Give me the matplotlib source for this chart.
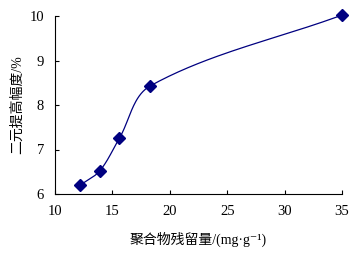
import numpy as np
import matplotlib
matplotlib.use("Agg")
import matplotlib.pyplot as plt

plt.rcParams['font.family'] = ['Liberation Serif', 'Noto Sans CJK SC', 'DejaVu Sans']

residual = [12.2, 13.9, 15.6, 18.3, 35.0]
increase = [6.2, 6.52, 7.25, 8.43, 10.02]
x_ticks = [10, 15, 20, 25, 30, 35]
y_ticks = [6, 7, 8, 9, 10]


def smooth(xs, ys, sx, sy, n=40):
    # smoothed line like Excel: bezier with tangent from neighbours,
    # control distance a third of the segment length (screen units)
    p = np.column_stack([np.array(xs) * sx, np.array(ys) * sy])
    m = len(p)
    tang = np.zeros_like(p)
    for i in range(m):
        a = p[max(i - 1, 0)]
        b = p[min(i + 1, m - 1)]
        d = b - a
        tang[i] = d / np.linalg.norm(d)
    t = np.linspace(0, 1, n)[:, None]
    out = []
    for i in range(m - 1):
        p1, p2 = p[i], p[i + 1]
        L = np.linalg.norm(p2 - p1) / 3
        c1 = p1 + tang[i] * L
        c2 = p2 - tang[i + 1] * L
        seg = (1 - t) ** 3 * p1 + 3 * (1 - t) ** 2 * t * c1 + 3 * (1 - t) * t ** 2 * c2 + t ** 3 * p2
        out.append(seg)
    out = np.vstack(out)
    return out[:, 0] / sx, out[:, 1] / sy


fig = plt.figure(figsize=(3.62, 2.59), dpi=100)
ax = fig.add_axes([55 / 362, 1 - 194 / 259, 287 / 362, 178 / 259])

sx_, sy_ = smooth(residual, increase, 287 / 25, 178 / 4)
ax.plot(sx_, sy_, color="#000080", lw=0.9, clip_on=False)
ax.plot(residual, increase, ls="none", marker="D", color="#000080",
        markersize=6.5, clip_on=False, zorder=3)

ax.set_xlim(10, 35)
ax.set_ylim(6, 10)
ax.set_xticks(x_ticks)
ax.set_yticks(y_ticks)
ax.spines["top"].set_visible(False)
ax.spines["right"].set_visible(False)
ax.tick_params(direction="in", length=3, labelsize=10.5, pad=8)

ax.set_xlabel("聚合物残留量/(mg·g⁻¹)", fontsize=10, labelpad=10)
ax.set_ylabel("二元提高幅度/%", fontsize=10, labelpad=4)

fig.savefig("out.png", dpi=100)
